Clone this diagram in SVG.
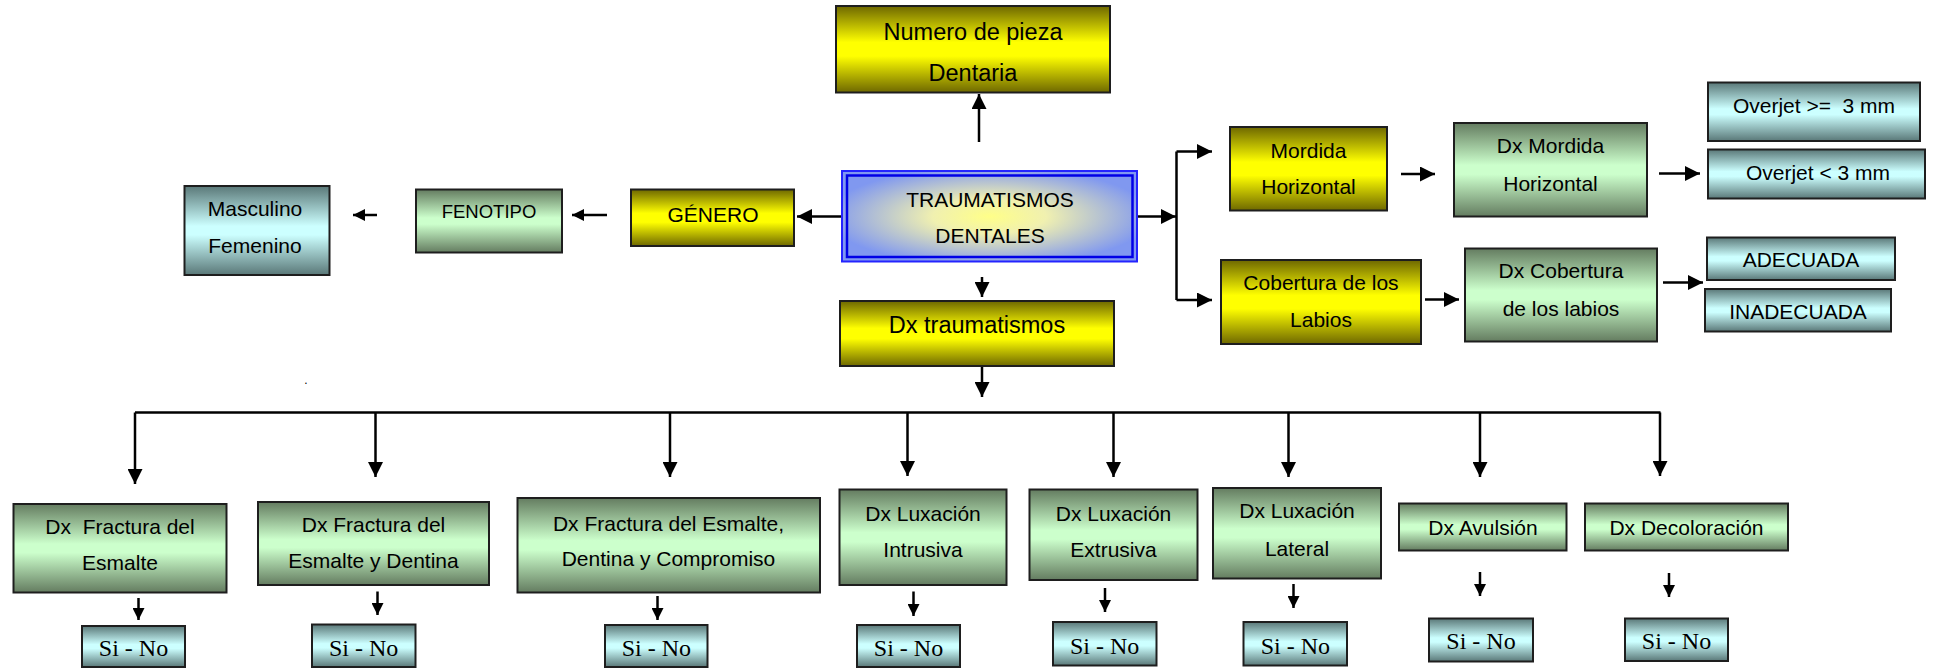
<svg xmlns="http://www.w3.org/2000/svg" width="1935" height="668" viewBox="0 0 1935 668">
<defs>
<linearGradient id="gY" x1="0" y1="0" x2="0" y2="1">
<stop offset="0" stop-color="#6e6800"/><stop offset="0.42" stop-color="#ffff00"/><stop offset="0.58" stop-color="#ffff00"/><stop offset="1" stop-color="#6e6800"/>
</linearGradient>
<linearGradient id="gG" x1="0" y1="0" x2="0" y2="1">
<stop offset="0" stop-color="#647c60"/><stop offset="0.45" stop-color="#ccffcc"/><stop offset="0.55" stop-color="#ccffcc"/><stop offset="1" stop-color="#647c60"/>
</linearGradient>
<linearGradient id="gT" x1="0" y1="0" x2="0" y2="1">
<stop offset="0" stop-color="#5a7878"/><stop offset="0.45" stop-color="#ccffff"/><stop offset="0.55" stop-color="#ccffff"/><stop offset="1" stop-color="#5a7878"/>
</linearGradient>
<radialGradient id="gB" cx="0.5" cy="0.5" r="0.55">
<stop offset="0" stop-color="#ffff88"/><stop offset="0.35" stop-color="#f0f0b0"/><stop offset="1" stop-color="#8098f0"/>
</radialGradient>
<marker id="aL" viewBox="0 0 10 10" refX="10" refY="5" markerWidth="15" markerHeight="15" markerUnits="userSpaceOnUse" orient="auto">
<path d="M0,0 L10,5 L0,10 z" fill="#000"/>
</marker>
<marker id="aS" viewBox="0 0 10 10" refX="10" refY="5" markerWidth="12" markerHeight="12" markerUnits="userSpaceOnUse" orient="auto">
<path d="M0,0 L10,5 L0,10 z" fill="#000"/>
</marker>
</defs>
<style>
.y{fill:url(#gY);stroke:#1e1e1e;stroke-width:2}
.g{fill:url(#gG);stroke:#1e1e1e;stroke-width:2}
.t{fill:url(#gT);stroke:#1e1e1e;stroke-width:2}
text{font-family:"Liberation Sans",Arial,sans-serif;font-size:21px;fill:#000;text-anchor:middle}
.big{font-size:23.5px}
.sn{font-family:"Liberation Serif","Times New Roman",serif;font-size:24px}
.c{stroke:#000;stroke-width:2.5;fill:none}
.al{marker-end:url(#aL)}
.as{marker-end:url(#aS)}
</style>

<g id="connectors">
<path class="c al" d="M979,142 L979,94"/>
<path class="c al" d="M841,216.5 L797,216.5"/>
<path class="c as" d="M607,215 L572,215"/>
<path class="c as" d="M377,215 L353,215"/>
<path class="c al" d="M1137,216.5 L1176,216.5"/>
<path class="c" d="M1176.5,151.5 L1176.5,300"/>
<path class="c al" d="M1176.5,151.5 L1212,151.5"/>
<path class="c al" d="M1176.5,300 L1212,300"/>
<path class="c al" d="M1401,174 L1435,174"/>
<path class="c al" d="M1659,173.5 L1700,173.5"/>
<path class="c al" d="M1425,299.5 L1459,299.5"/>
<path class="c al" d="M1663,282.5 L1703,282.5"/>
<path class="c al" d="M982,277 L982,297"/>
<path class="c al" d="M982,366 L982,397"/>
<path class="c" d="M135,412.5 L1660.5,412.5"/>
<path class="c al" d="M135,412.5 L135,484"/>
<path class="c al" d="M375.5,412.5 L375.5,477"/>
<path class="c al" d="M670,412.5 L670,477"/>
<path class="c al" d="M907.5,412.5 L907.5,476"/>
<path class="c al" d="M1113.5,412.5 L1113.5,477"/>
<path class="c al" d="M1288.5,412.5 L1288.5,477"/>
<path class="c al" d="M1480,412.5 L1480,477"/>
<path class="c al" d="M1660,412.5 L1660,476"/>
<path class="c as" d="M138.5,598 L138.5,620"/>
<path class="c as" d="M377.5,591.5 L377.5,615"/>
<path class="c as" d="M657.5,596 L657.5,620"/>
<path class="c as" d="M913.5,591.5 L913.5,616"/>
<path class="c as" d="M1105,588 L1105,612"/>
<path class="c as" d="M1293.5,584 L1293.5,608"/>
<path class="c as" d="M1480,572 L1480,596"/>
<path class="c as" d="M1669,573 L1669,597"/>
</g>

<g id="n-numero">
<rect class="y" x="836" y="6" width="274" height="86.5"/>
<text class="big" x="973" y="40">Numero de pieza</text>
<text class="big" x="973" y="81">Dentaria</text>
</g>

<g id="n-trauma">
<rect x="842" y="171" width="295" height="90.5" fill="url(#gB)" stroke="#2424ff" stroke-width="2"/>
<rect x="847" y="175.5" width="285.5" height="81.5" fill="none" stroke="#0000e6" stroke-width="2.5"/>
<text x="990" y="206.5">TRAUMATISMOS</text>
<text x="990" y="243">DENTALES</text>
</g>

<g id="n-genero">
<rect class="y" x="631" y="189.5" width="163" height="56.5"/>
<text x="713" y="221.5">GÉNERO</text>
</g>

<g id="n-fenotipo">
<rect class="g" x="416" y="189.5" width="146" height="63"/>
<text x="489" y="218" style="font-size:18.5px">FENOTIPO</text>
</g>

<g id="n-masculino">
<rect class="t" x="184.5" y="186" width="145" height="89"/>
<text x="255" y="215.5">Masculino</text>
<text x="255" y="253">Femenino</text>
</g>

<g id="n-mordida">
<rect class="y" x="1230" y="127" width="157" height="83.5"/>
<text x="1308.5" y="158">Mordida</text>
<text x="1308.5" y="194">Horizontal</text>
</g>

<g id="n-dxmordida">
<rect class="g" x="1454" y="123" width="193" height="93.5"/>
<text x="1550.5" y="153">Dx Mordida</text>
<text x="1550.5" y="190.5">Horizontal</text>
</g>

<g id="n-overjet1">
<rect class="t" x="1708" y="82.5" width="212" height="58.5"/>
<text x="1814" y="112.5" xml:space="preserve">Overjet &gt;=  3 mm</text>
</g>

<g id="n-overjet2">
<rect class="t" x="1708" y="149.5" width="217" height="49"/>
<text x="1818" y="180">Overjet &lt; 3 mm</text>
</g>

<g id="n-cobertura">
<rect class="y" x="1221" y="260" width="200" height="84"/>
<text x="1321" y="290">Cobertura de los</text>
<text x="1321" y="326.5">Labios</text>
</g>

<g id="n-dxcobertura">
<rect class="g" x="1465" y="248.5" width="192" height="93"/>
<text x="1561" y="278">Dx Cobertura</text>
<text x="1561" y="316">de los labios</text>
</g>

<g id="n-adecuada">
<rect class="t" x="1707" y="237.5" width="188" height="42.5"/>
<text x="1801" y="267">ADECUADA</text>
</g>

<g id="n-inadecuada">
<rect class="t" x="1705" y="289" width="186" height="42.5"/>
<text x="1798" y="319">INADECUADA</text>
</g>

<g id="n-dxtrauma">
<rect class="y" x="840" y="301" width="274" height="65"/>
<text class="big" x="977" y="333">Dx traumatismos</text>
</g>

<text x="306" y="384" style="font-size:12px">.</text>

<g id="n-b1">
<rect class="g" x="13.5" y="504" width="213" height="88.5"/>
<text x="120" y="534" xml:space="preserve">Dx  Fractura del</text>
<text x="120" y="570">Esmalte</text>
</g>
<g id="n-b2">
<rect class="g" x="258" y="502" width="231" height="83"/>
<text x="373.5" y="531.5">Dx Fractura del</text>
<text x="373.5" y="568">Esmalte y Dentina</text>
</g>
<g id="n-b3">
<rect class="g" x="517.5" y="498" width="302.5" height="94.5"/>
<text x="668.5" y="530.5">Dx Fractura del Esmalte,</text>
<text x="668.5" y="565.5">Dentina y Compromiso</text>
</g>
<g id="n-b4">
<rect class="g" x="839.5" y="489.5" width="167" height="95.5"/>
<text x="923" y="520.5">Dx Luxación</text>
<text x="923" y="557">Intrusiva</text>
</g>
<g id="n-b5">
<rect class="g" x="1029.5" y="489.5" width="168" height="90.5"/>
<text x="1113.5" y="520.5">Dx Luxación</text>
<text x="1113.5" y="556.5">Extrusiva</text>
</g>
<g id="n-b6">
<rect class="g" x="1213" y="488" width="168" height="90.5"/>
<text x="1297" y="518">Dx Luxación</text>
<text x="1297" y="556">Lateral</text>
</g>
<g id="n-b7">
<rect class="g" x="1399" y="503.5" width="167.5" height="47"/>
<text x="1483" y="535">Dx Avulsión</text>
</g>
<g id="n-b8">
<rect class="g" x="1585" y="503.5" width="203" height="47"/>
<text x="1686.5" y="535">Dx Decoloración</text>
</g>

<g id="n-s1"><rect class="t" x="82" y="626" width="103" height="41"/><text class="sn" x="133.5" y="656">Si - No</text></g>
<g id="n-s2"><rect class="t" x="312" y="624.5" width="103.5" height="42.5"/><text class="sn" x="363.7" y="655.5">Si - No</text></g>
<g id="n-s3"><rect class="t" x="605" y="625" width="102.5" height="42"/><text class="sn" x="656.3" y="656">Si - No</text></g>
<g id="n-s4"><rect class="t" x="857" y="625" width="103" height="42"/><text class="sn" x="908.5" y="656">Si - No</text></g>
<g id="n-s5"><rect class="t" x="1053" y="622" width="103.5" height="43.5"/><text class="sn" x="1104.7" y="653.5">Si - No</text></g>
<g id="n-s6"><rect class="t" x="1243.5" y="622" width="103.5" height="43.5"/><text class="sn" x="1295.3" y="653.5">Si - No</text></g>
<g id="n-s7"><rect class="t" x="1429" y="618.5" width="104" height="43"/><text class="sn" x="1481" y="648.5">Si - No</text></g>
<g id="n-s8"><rect class="t" x="1625" y="618.5" width="103" height="42.5"/><text class="sn" x="1676.5" y="648.5">Si - No</text></g>
</svg>
